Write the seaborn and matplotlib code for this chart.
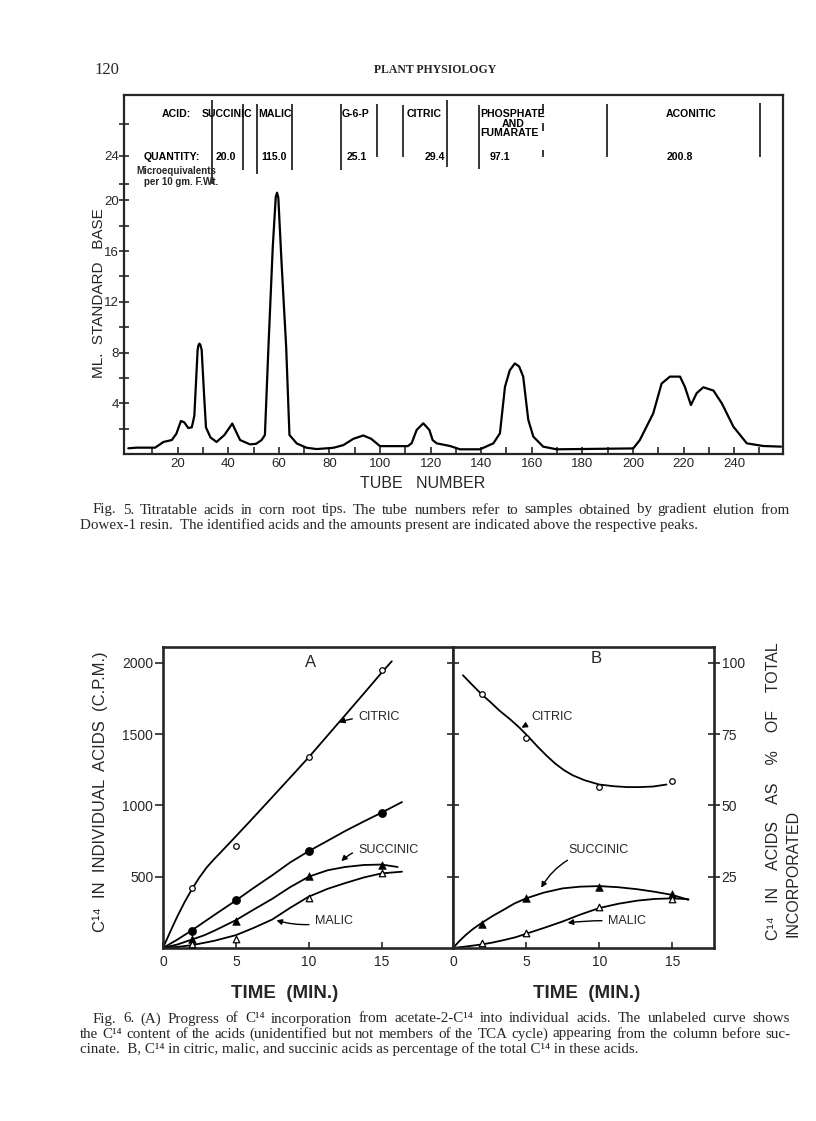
"""
Page 120 of Plant Physiology: Fig. 5 (titratable acids elution curve)
and Fig. 6 (C14 incorporation into acids, panels A and B).
"""

import matplotlib
matplotlib.use("Agg")
import matplotlib.pyplot as plt
import seaborn as sns
import pandas as pd

# ---------------------------------------------------------------- data
# Fig. 5: elution curve (tube number, ml standard base)
tube_number = [0.5, 3.8, 11.1, 14.4, 17.7, 19.5, 21.3, 22.6, 24.2, 25.6,
               26.6, 27.3, 27.9, 28.2, 28.6, 29.0, 29.5, 30.5, 31.2, 33.0,
               35.4, 38.5, 41.6, 43.0, 44.7, 48.6, 51.0, 53.2, 54.5, 55.9,
               57.6, 58.8, 59.3, 59.8, 61.1, 62.9, 64.2, 67.1, 71.0, 75.0,
               81.6, 85.5, 89.5, 93.4, 96.5, 100.0, 111.0, 112.5, 114.5, 117.1,
               119.5, 120.8, 122.4, 127.7, 131.6, 139.5, 144.8, 147.4, 149.4, 151.3,
               153.3, 155.0, 156.6, 158.6, 160.6, 164.5, 169.8, 200.1, 202.7, 208.0,
               211.3, 214.6, 218.6, 220.5, 222.9, 225.2, 227.8, 231.8, 235.1, 239.7,
               245.0, 251.5, 258.5]
ml_base = [0.45, 0.5, 0.5, 0.95, 1.1, 1.6, 2.6, 2.5, 2.05, 2.1,
           3.0, 5.8, 8.2, 8.55, 8.7, 8.6, 8.2, 4.5, 2.1, 1.3,
           0.95, 1.5, 2.4, 1.8, 1.1, 0.76, 0.8, 1.1, 1.5, 8.45,
           16.3, 20.3, 20.6, 20.2, 15.0, 8.45, 1.5, 0.83, 0.49, 0.39,
           0.49, 0.7, 1.2, 1.46, 1.2, 0.62, 0.62, 0.85, 1.9, 2.42,
           1.9, 1.1, 0.84, 0.63, 0.37, 0.37, 0.84, 1.63, 5.3, 6.6,
           7.14, 6.9, 6.1, 2.7, 1.37, 0.58, 0.37, 0.44, 1.1, 3.2,
           5.55, 6.1, 6.1, 5.3, 3.86, 4.8, 5.26, 5.0, 4.0, 2.15,
           0.84, 0.63, 0.58]

tube_ticks = [20, 40, 60, 80, 100, 120, 140, 160, 180, 200, 220, 240]
base_ticks = [2, 4, 6, 8, 10, 12, 14, 16, 18, 20, 21.3, 23.5, 26.0]
base_tick_labels = ["", "4", "", "8", "", "12", "", "16", "", "20", "", "24", ""]

# header of Fig. 5: acid names, quantities (microequivalents per 10 gm F.Wt.)
acid_names = ["SUCCINIC", "MALIC", "G-6-P", "CITRIC", "PHOSPHATE", "ACONITIC"]
acid_name_tube = [29.5, 51.9, 84.8, 110.6, 139.8, 222.9]
acid_quantity = ["20.0", "115.0", "25.1", "29.4", "97.1", "200.8"]
acid_quantity_tube = [35.2, 53.2, 86.8, 125.7, 143.5, 218.6]
divider_tube = [33.5, 45.7, 51.5, 65.1, 84.5, 98.9, 109.2, 126.6, 139.1, 189.6, 250.2]
divider_low = [21.3, 22.4, 22.1, 22.4, 22.4, 23.4, 23.4, 22.6, 22.5, 23.4, 23.4]
divider_high = [27.9, 27.6, 27.6, 27.6, 27.6, 27.6, 27.5, 27.9, 27.5, 27.6, 27.7]
dashed_divider_tube = 164.5
dashed_divider_parts = [(26.9, 27.6), (25.5, 26.1), (23.4, 24.0)]

# Fig. 6: sampling times (min) and measured points
time_min = [2, 5, 10, 15]
citric_cpm = [419, 714, 1337, 1947]
unlabeled_cpm = [116, 333, 681, 949]
succinic_cpm = [65, 186, 507, 581]
malic_cpm = [30, 63, 353, 523]

citric_pct = [89.0, 73.5, 56.4, 58.4]
succinic_pct = [8.5, 17.4, 21.5, 19.0]
malic_pct = [1.7, 5.2, 14.2, 17.1]

# hand-drawn curves of Fig. 6
citric_curve_t = [0, 0.5, 1, 1.5, 2, 2.5, 3, 3.5, 4, 5, 6, 7.5, 9, 10, 11, 12.5,
                  14, 15, 15.7]
citric_curve_cpm = [0, 115, 225, 325, 415, 495, 565, 622, 675, 783, 892, 1058,
                    1225, 1337, 1455, 1632, 1810, 1930, 2010]
unlabeled_curve_t = [0, 1, 2, 3.5, 5, 6.2, 7.5, 8.7, 10, 11.3, 12.5, 13.8, 15, 16.4]
unlabeled_curve_cpm = [0, 60, 125, 230, 333, 420, 510, 598, 679, 752, 820, 888,
                       949, 1023]
succinic_curve_t = [0, 1, 2, 2.8, 3.5, 4.2, 5, 6.2, 7.5, 8.7, 10, 11.3, 12.5,
                    13.8, 15, 16.1]
succinic_curve_cpm = [0, 25, 60, 88, 120, 155, 195, 268, 345, 425, 500, 545, 568,
                      582, 585, 568]
malic_curve_t = [0, 1, 2, 3.5, 5, 6.2, 7.5, 8.7, 10, 11.3, 12.5, 13.8, 15, 16.4]
malic_curve_cpm = [0, 8, 20, 50, 90, 140, 200, 280, 360, 415, 455, 495, 523, 535]

citric_pct_curve_t = [0.68, 1.3, 1.94, 2.6, 3.2, 3.9, 4.57, 5.2, 5.8, 6.4, 7.0,
                      7.6, 8.2, 9.0, 10, 11, 11.9, 12.8, 13.7, 14.6]
citric_pct_curve = [95.6, 92.3, 89.0, 86.0, 83.1, 80.2, 77.1, 73.8, 70.5, 67.4,
                    64.6, 62.3, 60.5, 58.8, 57.3, 56.7, 56.4, 56.4, 56.6, 57.3]
succinic_pct_curve_t = [0, 0.45, 0.9, 1.4, 1.94, 2.7, 3.5, 4.2, 5, 6.2, 7.5, 8.7,
                        10, 11.3, 12.6, 13.8, 15, 16.1]
succinic_pct_curve = [0, 2.5, 4.7, 6.8, 8.7, 11.2, 13.5, 15.6, 17.4, 19.4, 20.9,
                      21.5, 21.7, 21.3, 20.6, 19.7, 18.6, 16.9]
malic_pct_curve_t = [0, 1, 1.9, 2.7, 3.5, 4.3, 5, 6.2, 7.5, 8.7, 10, 11.3, 12.6,
                     13.8, 15, 16.1]
malic_pct_curve = [0, 0.6, 1.2, 1.9, 2.8, 3.8, 5.0, 7.0, 9.3, 11.7, 14.0, 15.5,
                   16.6, 17.2, 17.4, 17.1]

W, H = 816, 1121
SANS = ["Liberation Sans", "DejaVu Sans"]
SERIF = ["Liberation Serif", "DejaVu Serif"]
CAPTION_PT = 10.8

sns.set_style("ticks")
plt.rcParams["font.family"] = SANS
plt.rcParams["axes.linewidth"] = 1.6

fig = plt.figure(figsize=(W / 100, H / 100), dpi=100)


def px_axes(left, top, right, bottom):
    """Axes placed by page pixel edges."""
    return fig.add_axes([left / W, 1 - bottom / H, (right - left) / W, (bottom - top) / H])


def px_text(x, y, s, **kw):
    return fig.text(x / W, 1 - y / H, s, **kw)


def justified(text, x0, x1, y, size):
    """Lay out one caption line word by word so it fills x0..x1."""
    words = text.split()
    objs = [px_text(0, y, w, fontsize=size, family=SERIF, va="center") for w in words]
    renderer = fig.canvas.get_renderer()
    widths = [o.get_window_extent(renderer).width for o in objs]
    gap = (x1 - x0 - sum(widths)) / (len(words) - 1)
    x = x0
    for o, w in zip(objs, widths):
        o.set_position((x / W, 1 - y / H))
        x += w + gap


# ---------------------------------------------------------------- page header
px_text(94, 70, "120", fontsize=12, family=SERIF, va="center")
px_text(435, 70, "PLANT PHYSIOLOGY", fontsize=8.5, family=SERIF, weight="bold",
        ha="center", va="center")

# ---------------------------------------------------------------- Fig. 5
ax5 = px_axes(124, 95, 783, 454)
fig5 = pd.DataFrame({"tube": tube_number, "base": ml_base})
sns.lineplot(data=fig5, x="tube", y="base", ax=ax5, color="black", lw=1.6,
             sort=False, estimator=None)
ax5.set_xlim(-1.2, 259.3)
ax5.set_ylim(0, 28.3)
ax5.set_xticks(tube_ticks)
ax5.set_xticks(range(10, 251, 10), minor=True)
ax5.set_xticklabels([str(t) for t in tube_ticks])
ax5.set_yticks(base_ticks)
ax5.set_yticklabels(base_tick_labels)
ax5.tick_params(axis="x", which="both", direction="in", length=5, width=1.2,
                labelsize=9.5, pad=3)
ax5.tick_params(axis="y", direction="inout", length=7, width=1.2, labelsize=9.5, pad=0)
ax5.set_xlabel("")
ax5.set_ylabel("")

ax5.vlines(divider_tube, divider_low, divider_high, color="black", lw=1.1)
for lo, hi in dashed_divider_parts:
    ax5.vlines(dashed_divider_tube, lo, hi, color="black", lw=1.1)

hdr = dict(fontsize=7.6, weight="bold", va="center", color="black")
ax5.text(13.7, 26.77, "ACID:", **hdr)
for name, t in zip(acid_names, acid_name_tube):
    ax5.text(t, 26.77, name, ha="center" if name == "ACONITIC" else "left", **hdr)
ax5.text(152.6, 26.04, "AND", ha="center", **hdr)
ax5.text(139.8, 25.28, "FUMARATE", **hdr)
ax5.text(6.4, 23.39, "QUANTITY:", **hdr)
for q, t in zip(acid_quantity, acid_quantity_tube):
    ha = {"29.4": "right", "200.8": "center"}.get(q, "left")
    ax5.text(t, 23.39, q, ha=ha, **hdr)
ax5.text(3.8, 22.31, "Microequivalents", fontsize=7, weight="bold", va="center")
ax5.text(6.7, 21.44, "per 10 gm. F.Wt.", fontsize=7, weight="bold", va="center")

px_text(99, 293, "ML.  STANDARD   BASE", fontsize=11, rotation=90,
        ha="center", va="center")
px_text(423, 483, "TUBE   NUMBER", fontsize=11.5, ha="center", va="center")

justified("Fig. 5.  Titratable acids in corn root tips.  The tube numbers refer to "
          "samples obtained by gradient elution from", 93, 790, 510, CAPTION_PT)
px_text(80, 525, "Dowex-1 resin.  The identified acids and the amounts present are "
        "indicated above the respective peaks.", fontsize=CAPTION_PT, family=SERIF,
        va="center")

# ---------------------------------------------------------------- Fig. 6 A
axA = px_axes(163, 647, 453, 948)
curve = dict(color="black", lw=1.3, sort=False, estimator=None)
sns.lineplot(x=citric_curve_t, y=citric_curve_cpm, ax=axA, **curve)
sns.lineplot(x=unlabeled_curve_t, y=unlabeled_curve_cpm, ax=axA, **curve)
sns.lineplot(x=succinic_curve_t, y=succinic_curve_cpm, ax=axA, **curve)
sns.lineplot(x=malic_curve_t, y=malic_curve_cpm, ax=axA, **curve)

open_circle = dict(marker="o", s=16, color="white", edgecolor="black", linewidth=0.9, zorder=3)
full_circle = dict(marker="o", s=34, color="black", edgecolor="black", zorder=3)
full_tri = dict(marker="^", s=30, color="black", edgecolor="black", zorder=3)
open_tri = dict(marker="^", s=22, color="white", edgecolor="black", linewidth=0.9, zorder=3)

sns.scatterplot(x=time_min, y=citric_cpm, ax=axA, **open_circle)
sns.scatterplot(x=time_min, y=unlabeled_cpm, ax=axA, **full_circle)
sns.scatterplot(x=time_min, y=succinic_cpm, ax=axA, **full_tri)
sns.scatterplot(x=time_min, y=malic_cpm, ax=axA, **open_tri)

axA.set_xlim(0, 19.9)
axA.set_ylim(0, 2110)
axA.set_xticks([0, 5, 10, 15])
axA.set_yticks([500, 1000, 1500, 2000])
axA.tick_params(axis="x", direction="in", length=4, width=1.2, labelsize=10, pad=5)
axA.tick_params(axis="y", direction="out", length=6, width=1.2, labelsize=10, pad=1)
axA.set_xlabel("")
axA.set_ylabel("")

lab = dict(fontsize=9, va="center")
arrow = dict(arrowstyle="-|>", color="black", lw=1.0, mutation_scale=8)
axA.text(10.1, 2000, "A", fontsize=12, ha="center", va="center")
axA.annotate("CITRIC", xy=(11.9, 1575), xytext=(13.4, 1621),
             arrowprops=dict(connectionstyle="arc3,rad=0.1", **arrow), **lab)
axA.annotate("SUCCINIC", xy=(12.1, 595), xytext=(13.4, 686),
             arrowprops=dict(connectionstyle="arc3,rad=0.3", **arrow), **lab)
axA.annotate("MALIC", xy=(7.6, 200), xytext=(10.43, 191),
             arrowprops=dict(connectionstyle="arc3,rad=-0.15", **arrow), **lab)

# ---------------------------------------------------------------- Fig. 6 B
axB = px_axes(453, 647, 714, 948)
sns.lineplot(x=citric_pct_curve_t, y=citric_pct_curve, ax=axB, **curve)
sns.lineplot(x=succinic_pct_curve_t, y=succinic_pct_curve, ax=axB, **curve)
sns.lineplot(x=malic_pct_curve_t, y=malic_pct_curve, ax=axB, **curve)
sns.scatterplot(x=time_min, y=citric_pct, ax=axB, **open_circle)
sns.scatterplot(x=time_min, y=succinic_pct, ax=axB, **full_tri)
sns.scatterplot(x=time_min, y=malic_pct, ax=axB, **open_tri)

axB.set_xlim(0, 17.85)
axB.set_ylim(0, 105.5)
axB.set_xticks([0, 5, 10, 15])
axB.set_yticks([25, 50, 75, 100])
axB.tick_params(axis="x", direction="in", length=4, width=1.2, labelsize=10, pad=5)
axB.tick_params(axis="y", left=True, right=True, labelleft=False, labelright=True,
                direction="inout", length=9, width=1.2, labelsize=10, pad=1)
axB.set_xlabel("")
axB.set_ylabel("")

axB.text(9.8, 101.3, "B", fontsize=12, ha="center", va="center")
axB.annotate("CITRIC", xy=(4.52, 76.7), xytext=(5.37, 81.0),
             arrowprops=dict(connectionstyle="arc3,rad=0.1", **arrow), **lab)
axB.annotate("SUCCINIC", xy=(5.94, 20.3), xytext=(7.88, 34.5),
             arrowprops=dict(connectionstyle="arc3,rad=0.25", **arrow), **lab)
axB.annotate("MALIC", xy=(7.65, 8.7), xytext=(10.6, 9.3),
             arrowprops=dict(connectionstyle="arc3,rad=0.05", **arrow), **lab)

for ax in (axA, axB):
    for sp in ax.spines.values():
        sp.set_linewidth(1.9)

px_text(100, 792, "C\u00b9\u2074  IN  INDIVIDUAL  ACIDS  (C.P.M.)", fontsize=12,
        rotation=90, ha="center", va="center")
px_text(773, 940, "C\u00b9\u2074   IN    ACIDS    AS    %    OF    TOTAL", fontsize=11.5,
        rotation=90, rotation_mode="anchor", ha="left", va="center")
px_text(793, 937, "INCORPORATED", fontsize=11.5, rotation=90, rotation_mode="anchor",
        ha="left", va="center")
px_text(285, 993, "TIME  (MIN.)", fontsize=13.5, weight="bold", ha="center", va="center")
px_text(587, 993, "TIME  (MIN.)", fontsize=13.5, weight="bold", ha="center", va="center")

justified("Fig. 6.  (A)  Progress of C\u00b9\u2074 incorporation from acetate-2-C\u00b9\u2074 "
          "into individual acids.  The unlabeled curve shows", 93, 790, 1019, CAPTION_PT)
justified("the C\u00b9\u2074 content of the acids (unidentified but not members of the "
          "TCA cycle) appearing from the column before suc-", 80, 790, 1034, CAPTION_PT)
px_text(80, 1049, "cinate.  B, C\u00b9\u2074 in citric, malic, and succinic acids as "
        "percentage of the total C\u00b9\u2074 in these acids.", fontsize=CAPTION_PT,
        family=SERIF, va="center")

fig.savefig("out.png", dpi=100)
plt.close(fig)
